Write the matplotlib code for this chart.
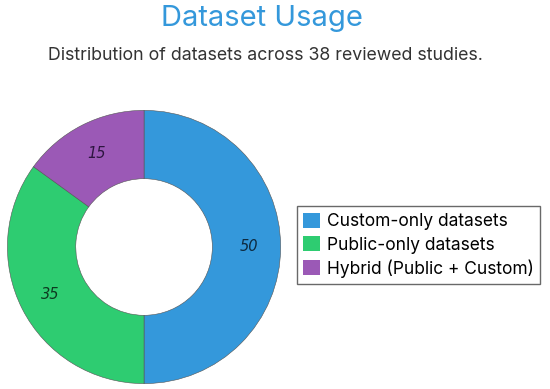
import matplotlib
matplotlib.use("Agg")
import matplotlib.pyplot as plt
from matplotlib.patches import Patch
import numpy as np

plt.rcParams['font.family'] = ['Inter', 'DejaVu Sans']

categories = ["Custom-only datasets", "Public-only datasets", "Hybrid (Public + Custom)"]
values = [50, 35, 15]
colors = ["#3498db", "#2ecc71", "#9b59b6"]
label_colors = ["#0d2a40", "#0d3a20", "#2d1540"]

fig = plt.figure(figsize=(5.5, 3.89), dpi=100)
fig.patch.set_facecolor("white")

fig.text(0.476, 0.952, "Dataset Usage", ha="center", va="center",
         fontsize=21, color="#3498db")
fig.text(0.482, 0.858, "Distribution of datasets across 38 reviewed studies.",
         ha="center", va="center", fontsize=12.8, color="#333333")

ax = fig.add_axes([0.0109, 0.0103, 0.502, 0.7095])
wedges, _ = ax.pie(values, colors=colors, startangle=90, counterclock=False,
                   radius=1.0,
                   wedgeprops=dict(width=0.5, edgecolor="#555555", linewidth=0.4))
start = 90.0
total = sum(values)
for v, lc in zip(values, label_colors):
    ang = start - v / total * 360 / 2
    start -= v / total * 360
    r = 0.77
    ax.text(r * np.cos(np.radians(ang)), r * np.sin(np.radians(ang)), str(v),
            ha="center", va="center", fontsize=10.5, style="italic", color=lc,
            family=["DejaVu Sans"])
ax.set_xlim(-1.01, 1.01)
ax.set_ylim(-1.01, 1.01)
ax.set_aspect("equal")
ax.axis("off")

handles = [Patch(facecolor=c, edgecolor="none") for c in colors]
leg = fig.legend(handles, categories, loc="center left", bbox_to_anchor=(0.54, 0.37),
                 fontsize=12.5, frameon=True, fancybox=False, edgecolor="#444444",
                 handlelength=1.0, handleheight=1.0, handletextpad=0.4,
                 borderpad=0.35, labelspacing=0.32, borderaxespad=0)
leg.get_frame().set_linewidth(1.0)

fig.savefig("out.png", dpi=100, facecolor="white")
